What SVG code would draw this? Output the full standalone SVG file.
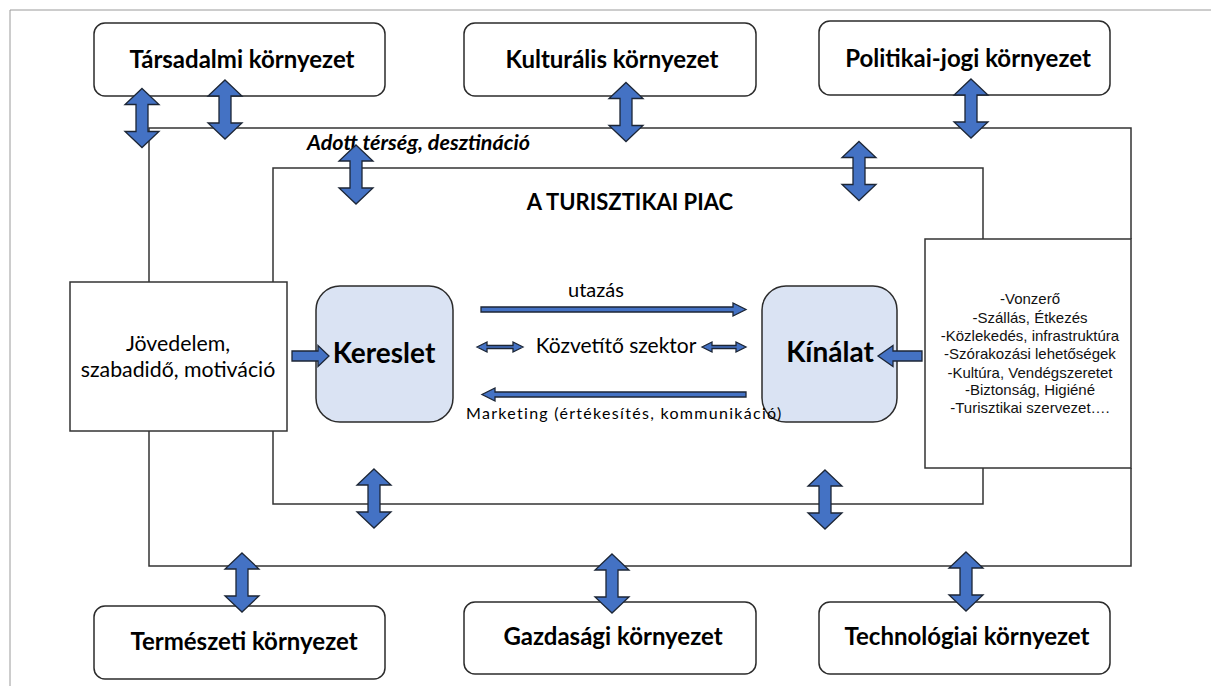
<svg xmlns="http://www.w3.org/2000/svg" xmlns:xlink="http://www.w3.org/1999/xlink" width="1211" height="686" viewBox="0 0 1211 686">
<style>
.env{fill:#fff;stroke:#2b2b2b;stroke-width:1.5}
.frame{fill:none;stroke:#333;stroke-width:1.5}
.box{fill:#fff;stroke:#333;stroke-width:1.5}
.core{fill:#dae3f3;stroke:#2b2b2b;stroke-width:1.5}
.arr{fill:#4472c4;stroke:#1c2636;stroke-width:1.3;stroke-linejoin:miter}
.t{font-family:Lato,"Open Sans","Liberation Sans",sans-serif;fill:#000}
.envt{font-size:24px;font-weight:bold;text-anchor:middle}
.list{font-family:"Liberation Sans",Arial,sans-serif;font-size:15px;text-anchor:middle;fill:#111}
</style>
<defs>
<path id="dv" d="M0,-29.5 L17,-13.5 L6,-13.5 L6,13.5 L17,13.5 L0,29.5 L-17,13.5 L-6,13.5 L-6,-13.5 L-17,-13.5 Z"/>
</defs>
<rect width="1211" height="686" fill="#fff"/>
<path d="M10,686 V10 H1211" fill="none" stroke="#9a9a9a" stroke-width="1"/>

<g id="frames">
<path class="frame" d="M149,282 V128 H1131 V239 M1131,468 V566 H149 V431"/>
<path class="frame" d="M273,282 V168 H983 V239 M983,468 V504 H273 V431"/>
</g>

<g id="env-tarsadalmi"><rect class="env" x="94" y="23" width="291" height="73" rx="11"/><text class="t envt" x="242" y="68">Társadalmi környezet</text></g>
<g id="env-kulturalis"><rect class="env" x="464" y="23" width="292" height="73" rx="11"/><text class="t envt" x="612" y="68">Kulturális környezet</text></g>
<g id="env-politikai"><rect class="env" x="819" y="21" width="291" height="74" rx="11"/><text class="t envt" x="968" y="67">Politikai-jogi környezet</text></g>
<g id="env-termeszeti"><rect class="env" x="94" y="606" width="291" height="73" rx="11"/><text class="t envt" x="244" y="650">Természeti környezet</text></g>
<g id="env-gazdasagi"><rect class="env" x="464" y="602" width="292" height="72" rx="11"/><text class="t envt" x="613" y="645">Gazdasági környezet</text></g>
<g id="env-technologiai"><rect class="env" x="819" y="602" width="291" height="72" rx="11"/><text class="t envt" x="967" y="645">Technológiai környezet</text></g>

<g id="label-destinacio"><text class="t" x="307" y="150" font-size="21.5" font-weight="bold" font-style="italic">Adott térség, desztináció</text></g>
<g id="label-piac"><text class="t" x="630" y="210" font-size="22" font-weight="bold" text-anchor="middle">A TURISZTIKAI PIAC</text></g>

<g id="node-jovedelem"><rect class="box" x="70" y="282" width="217" height="149"/>
<text class="t" x="178" y="351" font-size="21.3" text-anchor="middle">Jövedelem,</text>
<text class="t" x="178" y="377" font-size="21.3" text-anchor="middle">szabadidő, motiváció</text></g>

<g id="node-kereslet"><rect class="core" x="316" y="286" width="137" height="136" rx="24"/><text class="t" x="384" y="363" font-size="28" font-weight="bold" text-anchor="middle">Kereslet</text></g>
<g id="node-kinalat"><rect class="core" x="762" y="286" width="135" height="136" rx="24"/><text class="t" x="830" y="362" font-size="28" font-weight="bold" text-anchor="middle">Kínálat</text></g>

<g id="node-kinalat-lista"><rect class="box" x="925" y="239" width="206" height="229"/>
<text class="list" x="1030" y="304">-Vonzerő</text>
<text class="list" x="1030" y="323">-Szállás, Étkezés</text>
<text class="list" x="1030" y="341">-Közlekedés, infrastruktúra</text>
<text class="list" x="1030" y="359">-Szórakozási lehetőségek</text>
<text class="list" x="1030" y="378">-Kultúra, Vendégszeretet</text>
<text class="list" x="1030" y="395">-Biztonság, Higiéné</text>
<text class="list" x="1030" y="413">-Turisztikai szervezet….</text></g>

<g id="flow-labels">
<text class="t" x="596" y="297" font-size="20" text-anchor="middle">utazás</text>
<text class="t" x="616" y="353" font-size="21" text-anchor="middle">Közvetítő szektor</text>
<text class="t" x="466" y="419" font-size="16" letter-spacing="1.3">Marketing (értékesítés, kommunikáció)</text>
</g>

<g id="connectors">
<use xlink:href="#dv" class="arr" x="142" y="118"/>
<use xlink:href="#dv" class="arr" x="225" y="109.5"/>
<use xlink:href="#dv" class="arr" x="356" y="174.5"/>
<use xlink:href="#dv" class="arr" x="626" y="112"/>
<use xlink:href="#dv" class="arr" x="971" y="108.5"/>
<use xlink:href="#dv" class="arr" x="859" y="171"/>
<use xlink:href="#dv" class="arr" x="374" y="498.5"/>
<use xlink:href="#dv" class="arr" x="825" y="499.5"/>
<use xlink:href="#dv" class="arr" x="242" y="582.5"/>
<use xlink:href="#dv" class="arr" x="612" y="583.5"/>
<use xlink:href="#dv" class="arr" x="966" y="581.5"/>
<path class="arr" d="M292,351 H318 V345.5 L329,356 L318,366.5 V361 H292 Z"/>
<path class="arr" d="M922,351 H893 V345.5 L878,356 L893,366.5 V361 H922 Z"/>
<path class="arr" d="M481,307 H733 V303 L746,309.5 L733,316 V312 H481 Z"/>
<path class="arr" d="M746,392 H495 V388 L482,394.5 L495,401 V397 H746 Z"/>
<path class="arr" d="M477,347 L487,342 V345.5 H513 V342 L523,347 L513,352 V348.5 H487 V352 Z"/>
<path class="arr" d="M702,347 L712,342 V345.5 H736 V342 L746,347 L736,352 V348.5 H712 V352 Z"/>
</g>
</svg>
